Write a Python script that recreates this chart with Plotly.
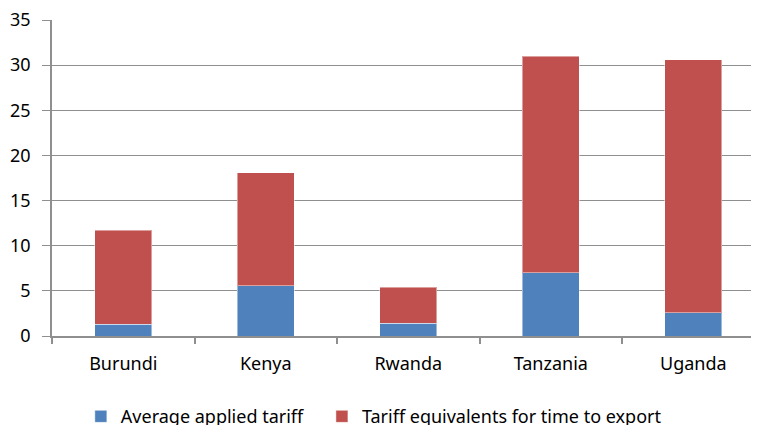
import plotly.graph_objects as go

countries = ["Burundi", "Kenya", "Rwanda", "Tanzania", "Uganda"]
avg_applied_tariff = [1.3, 5.55, 1.4, 7.0, 2.6]
total_values = [11.7, 18.1, 5.4, 31.0, 30.6]
time_to_export = [round(t - a, 2) for t, a in zip(total_values, avg_applied_tariff)]

series_names = ["Average applied tariff", "Tariff equivalents for time to export"]
y_ticks = [0, 5, 10, 15, 20, 25, 30, 35]

FONT = "Noto Sans"
GRID = "#8f8f8f"

# The page body has an 8px margin, so the figure is sized to fit the 759x425 window.
fig = go.Figure()
fig.add_trace(go.Bar(
    x=countries, y=avg_applied_tariff, name=series_names[0], legend="legend",
    marker=dict(color="#4F81BD", line=dict(color="rgba(255,255,255,0.45)", width=1)),
))
fig.add_trace(go.Bar(
    x=countries, y=time_to_export, name=series_names[1], legend="legend2",
    marker=dict(color="#C0504D", line=dict(color="rgba(255,255,255,0.45)", width=1)),
))

legend_common = dict(
    orientation="h",
    xref="container", yref="container",
    xanchor="left",
    y=0.02, yanchor="middle",
    font=dict(family=FONT, size=18, color="#000000"),
    itemwidth=30,
    bgcolor="rgba(0,0,0,0)",
)

fig.update_layout(
    barmode="stack",
    bargap=0.6,
    width=751, height=417,
    margin=dict(l=44, r=0, t=12, b=89, autoexpand=False),
    paper_bgcolor="white",
    plot_bgcolor="white",
    font=dict(family=FONT, size=18, color="#000000"),
    showlegend=True,
    legend=dict(x=0.097, **legend_common),
    legend2=dict(x=0.418, **legend_common),
    xaxis=dict(
        type="category",
        range=[-0.5, 4.461],
        automargin=False,
        showgrid=False,
        showline=True, linecolor=GRID, linewidth=1.5,
        ticks="outside", ticklen=6, tickcolor=GRID, tickwidth=1.5,
        tickson="boundaries",
        tickfont=dict(family=FONT, size=18),
        ticklabelstandoff=11,
        zeroline=False,
    ),
    yaxis=dict(
        range=[0, 35],
        automargin=False,
        tickvals=y_ticks,
        showgrid=True, gridcolor=GRID, gridwidth=1.2,
        showline=True, linecolor=GRID, linewidth=1.5,
        ticks="outside", ticklen=8, tickcolor=GRID, tickwidth=1.2,
        tickfont=dict(family=FONT, size=18),
        ticklabelstandoff=8,
        ticklabeloverflow="allow",
        zeroline=False,
    ),
)

fig.write_html("out.html")
